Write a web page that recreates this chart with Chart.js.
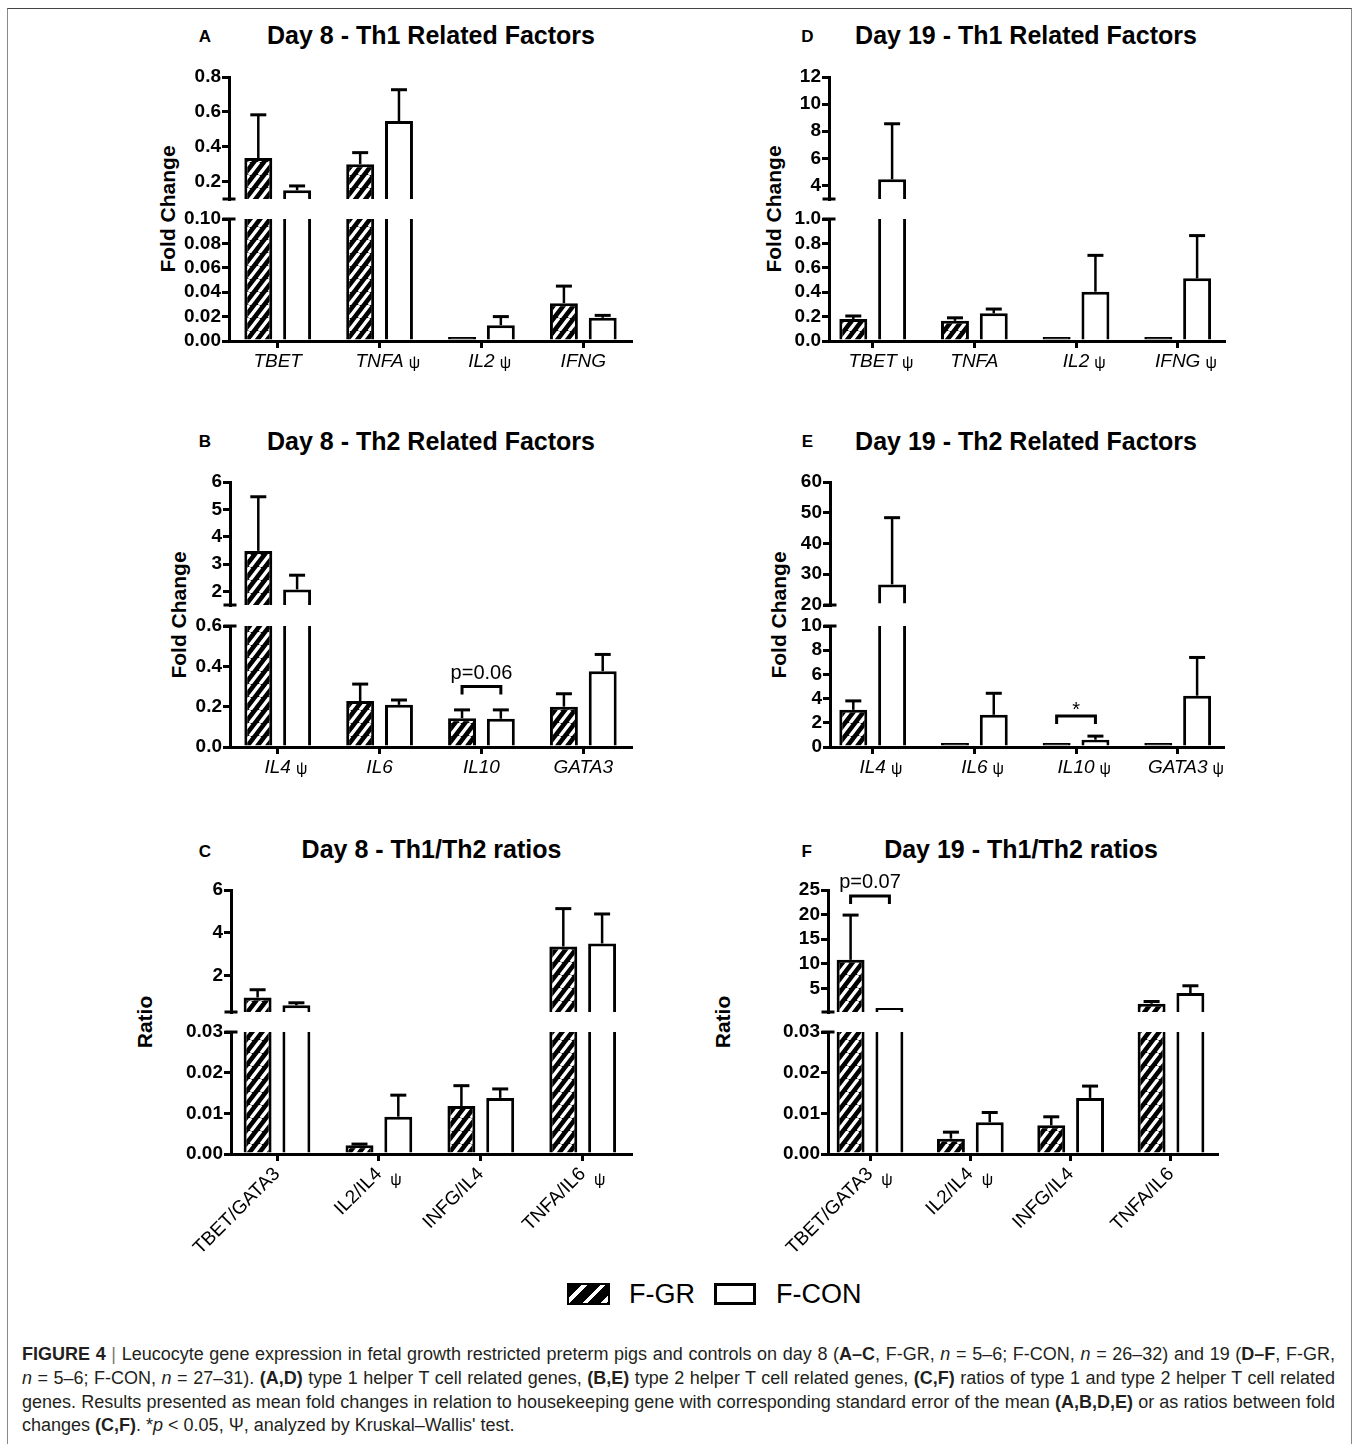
<!DOCTYPE html>
<html>
<head>
<meta charset="utf-8">
<title>Figure 4 – Leucocyte gene expression</title>
<script src="https://cdn.jsdelivr.net/npm/chart.js"></script>
<style>
  html, body { margin: 0; padding: 0; background: #fff; }
  body { width: 1358px; height: 1444px; position: relative; overflow: hidden;
         font-family: 'Liberation Sans', Arial, Helvetica, sans-serif; color: #000; }
  .frame { position: absolute; left: 7px; top: 8px; width: 1343px; height: 1460px;
           border-top: 1px solid #444; border-left: 1px solid #888; border-right: 1px solid #888; }
  canvas { position: absolute; }
  .t { position: absolute; white-space: nowrap; line-height: 1; }
  .title { font-weight: bold; font-size: 25px; transform: translateX(-50%); }
  .letter { font-weight: bold; font-size: 17px; transform: translateX(-50%); }
  .ytitle { font-weight: bold; font-size: 21px; transform: translate(-50%, -50%) rotate(-90deg); }
  .legtext { font-size: 27px; }
  .swatch { position: absolute; box-sizing: border-box; width: 43px; height: 22px; border: 3px solid #000; }
  .hatch { background: #000 repeating-linear-gradient(135deg, #000 0 9px, #fff 9px 13px); border-width: 2px; }
  .caption { position: absolute; left: 22px; top: 1343px; width: 1313px; font-size: 18px;
             line-height: 23.8px; color: #231f20; }
  .caption .ln { white-space: nowrap; }
  .caption .j { text-align: justify; text-align-last: justify; }
  .caption .bar { color: #777; }
</style>
</head>
<body>
<div class="frame"></div>

<!-- panel titles and letters -->
<div class="t letter" style="left:205px;top:28.4px">A</div>
<div class="t title" style="left:431px;top:23.4px">Day 8 - Th1 Related Factors</div>
<div class="t letter" style="left:807.3px;top:28.4px">D</div>
<div class="t title" style="left:1026px;top:23.4px">Day 19 - Th1 Related Factors</div>

<div class="t letter" style="left:205px;top:433.4px">B</div>
<div class="t title" style="left:431px;top:429px">Day 8 - Th2 Related Factors</div>
<div class="t letter" style="left:807.3px;top:433.4px">E</div>
<div class="t title" style="left:1026px;top:429px">Day 19 - Th2 Related Factors</div>

<div class="t letter" style="left:205px;top:843.4px">C</div>
<div class="t title" style="left:431.5px;top:836.8px">Day 8 - Th1/Th2 ratios</div>
<div class="t letter" style="left:806.7px;top:843.4px">F</div>
<div class="t title" style="left:1021px;top:836.8px">Day 19 - Th1/Th2 ratios</div>

<!-- value-axis titles -->
<div class="t ytitle" style="left:166.7px;top:209px">Fold Change</div>
<div class="t ytitle" style="left:773.3px;top:209px">Fold Change</div>
<div class="t ytitle" style="left:177.7px;top:614.5px">Fold Change</div>
<div class="t ytitle" style="left:777.7px;top:614.5px">Fold Change</div>
<div class="t ytitle" style="left:144px;top:1022px">Ratio</div>
<div class="t ytitle" style="left:721.7px;top:1022px">Ratio</div>

<!-- shared legend -->
<div class="swatch hatch" style="left:567px;top:1283px"></div>
<div class="t legtext" style="left:629px;top:1280.6px">F-GR</div>
<div class="swatch" style="left:714px;top:1283px;width:42px"></div>
<div class="t legtext" style="left:776px;top:1280.6px">F-CON</div>

<div class="caption">
  <div class="ln j"><b>FIGURE 4</b> <span class="bar">|</span> Leucocyte gene expression in fetal growth restricted preterm pigs and controls on day 8 (<b>A–C</b>, F-GR, <i>n</i> = 5–6; F-CON, <i>n</i> = 26–32) and 19 (<b>D–F</b>, F-GR,</div>
  <div class="ln j"><i>n</i> = 5–6; F-CON, <i>n</i> = 27–31). <b>(A,D)</b> type 1 helper T cell related genes, <b>(B,E)</b> type 2 helper T cell related genes, <b>(C,F)</b> ratios of type 1 and type 2 helper T cell related</div>
  <div class="ln j">genes. Results presented as mean fold changes in relation to housekeeping gene with corresponding standard error of the mean <b>(A,B,D,E)</b> or as ratios between fold</div>
  <div class="ln">changes <b>(C,F)</b>. *<i>p</i> &lt; 0.05, Ψ, analyzed by Kruskal–Wallis' test.</div>
</div>

<script>
// ---------------- data: means and SEM per group ----------------
// (A) Day 8 – Th1 related factors
const catsA   = ['TBET', 'TNFA', 'IL2', 'IFNG'];
const psiA    = [false, true, true, false];
const grA     = [0.335, 0.300, 0.003, 0.031];
const grSemA  = [0.248, 0.066, null, 0.014];
const conA    = [0.150, 0.547, 0.013, 0.019];
const conSemA = [0.025, 0.180, 0.007, 0.002];
const upTicksA  = [0.2, 0.4, 0.6, 0.8];
const lowTicksA = [0, 0.02, 0.04, 0.06, 0.08, 0.10];

// (D) Day 19 – Th1 related factors
const catsD   = ['TBET', 'TNFA', 'IL2', 'IFNG'];
const psiD    = [true, false, true, true];
const grD     = [0.180, 0.165, 0.012, 0.022];
const grSemD  = [0.025, 0.025, null, null];
const conD    = [4.45, 0.227, 0.404, 0.514];
const conSemD = [4.10, 0.035, 0.298, 0.350];
const upTicksD  = [4, 6, 8, 10, 12];
const lowTicksD = [0, 0.2, 0.4, 0.6, 0.8, 1.0];

// (B) Day 8 – Th2 related factors
const catsB   = ['IL4', 'IL6', 'IL10', 'GATA3'];
const psiB    = [true, false, false, false];
const grB     = [3.48, 0.228, 0.143, 0.200];
const grSemB  = [1.98, 0.084, 0.041, 0.064];
const conB    = [2.07, 0.209, 0.140, 0.376];
const conSemB = [0.52, 0.024, 0.044, 0.083];
const upTicksB  = [2, 3, 4, 5, 6];
const lowTicksB = [0, 0.2, 0.4, 0.6];

// (E) Day 19 – Th2 related factors
const catsE   = ['IL4', 'IL6', 'IL10', 'GATA3'];
const psiE    = [true, true, true, true];
const grE     = [3.07, 0.25, 0.20, 0.22];
const grSemE  = [0.74, null, null, null];
const conE    = [26.7, 2.66, 0.60, 4.24];
const conSemE = [21.7, 1.78, 0.30, 3.16];
const upTicksE  = [20, 30, 40, 50, 60];
const lowTicksE = [0, 2, 4, 6, 8, 10];

// (C) Day 8 – Th1/Th2 ratios
const catsC   = ['TBET/GATA3', 'IL2/IL4', 'INFG/IL4', 'TNFA/IL6'];
const psiC    = [false, true, false, true];
const grC     = [0.98, 0.00214, 0.0118, 3.36];
const grSemC  = [0.36, 0.0003, 0.0050, 1.77];
const conC    = [0.61, 0.00917, 0.0138, 3.50];
const conSemC = [0.12, 0.0053, 0.0022, 1.38];
const upTicksC  = [2, 4, 6];
const lowTicksC = [0, 0.01, 0.02, 0.03];

// (F) Day 19 – Th1/Th2 ratios
const catsF   = ['TBET/GATA3', 'IL2/IL4', 'INFG/IL4', 'TNFA/IL6'];
const psiF    = [true, true, false, false];
const grF     = [10.8, 0.00377, 0.00705, 1.88];
const grSemF  = [9.1, 0.0016, 0.0021, 0.46];
const conF    = [1.0, 0.0078, 0.0138, 4.05];
const conSemF = [null, 0.0024, 0.0029, 1.48];
const upTicksF  = [5, 10, 15, 20, 25];
const lowTicksF = [0, 0.01, 0.02, 0.03];

// significance brackets: category, axis segment, bracket height (axis units), text
const sigB = [{ cat: 2, axis: 'yLow', y: 0.30, text: 'p=0.06' }];
const sigE = [{ cat: 2, axis: 'yLow', y: 2.57, text: '*' }];
const sigF = [{ cat: 0, axis: 'yHigh', y: 23.8, text: 'p=0.07' }];

// ---------------- panel layout ----------------
const panels = [
  { cats: catsA, psi: psiA, gr: grA, grSem: grSemA, con: conA, conSem: conSemA, sig: [],
    upper: { min: 0.1, max: 0.8, ticks: upTicksA, dp: 1 }, lower: { min: 0, max: 0.1, ticks: lowTicksA, dp: 2 },
    box: { l: 229, r: 631, t: 77, gt: 199, gb: 219, b: 341 }, tick0: 277.7, gap: 101.87, rotate: false },
  { cats: catsD, psi: psiD, gr: grD, grSem: grSemD, con: conD, conSem: conSemD, sig: [],
    upper: { min: 3, max: 12, ticks: upTicksD, dp: 0 }, lower: { min: 0, max: 1.0, ticks: lowTicksD, dp: 1 },
    box: { l: 829, r: 1224, t: 77, gt: 199, gb: 219, b: 341 }, tick0: 872.7, gap: 101.67, rotate: false },
  { cats: catsB, psi: psiB, gr: grB, grSem: grSemB, con: conB, conSem: conSemB, sig: sigB,
    upper: { min: 1.5, max: 6, ticks: upTicksB, dp: 0 }, lower: { min: 0, max: 0.6, ticks: lowTicksB, dp: 1 },
    box: { l: 230, r: 631, t: 482, gt: 605, gb: 626, b: 747 }, tick0: 277.7, gap: 101.87, rotate: false },
  { cats: catsE, psi: psiE, gr: grE, grSem: grSemE, con: conE, conSem: conSemE, sig: sigE,
    upper: { min: 20, max: 60, ticks: upTicksE, dp: 0 }, lower: { min: 0, max: 10, ticks: lowTicksE, dp: 0 },
    box: { l: 830, r: 1223, t: 482, gt: 605, gb: 626, b: 747 }, tick0: 872.7, gap: 101.67, rotate: false },
  { cats: catsC, psi: psiC, gr: grC, grSem: grSemC, con: conC, conSem: conSemC, sig: [],
    upper: { min: 0.3, max: 6, ticks: upTicksC, dp: 0 }, lower: { min: 0, max: 0.03, ticks: lowTicksC, dp: 2 },
    box: { l: 231, r: 631, t: 890, gt: 1012, gb: 1032, b: 1154 }, tick0: 277, gap: 101.9, rotate: true },
  { cats: catsF, psi: psiF, gr: grF, grSem: grSemF, con: conF, conSem: conSemF, sig: sigF,
    upper: { min: 0.2, max: 25, ticks: upTicksF, dp: 0 }, lower: { min: 0, max: 0.03, ticks: lowTicksF, dp: 2 },
    box: { l: 828, r: 1217, t: 890, gt: 1012, gb: 1032, b: 1154 }, tick0: 870, gap: 100.33, rotate: true },
];

const FONT = "'Liberation Sans', Arial, Helvetica, sans-serif";
Chart.defaults.font.family = FONT;
Chart.defaults.color = '#000';

// black bars with white "/" stripes
function makeHatch(ctx) {
  const w = 10, h = 13;
  const c = document.createElement('canvas');
  c.width = w; c.height = h;
  const g = c.getContext('2d');
  g.fillStyle = '#000';
  g.fillRect(0, 0, w, h);
  g.strokeStyle = '#fff';
  g.lineWidth = 3.4;
  g.beginPath();
  for (const dx of [-w, 0, w]) { g.moveTo(dx, h); g.lineTo(dx + w, 0); }
  g.stroke();
  return ctx.createPattern(c, 'repeat');
}

// upward SEM whiskers with a cap
const errorBars = {
  id: 'errorBars',
  afterDatasetsDraw(chart) {
    const ctx = chart.ctx;
    ctx.save();
    ctx.strokeStyle = '#000';
    chart.data.datasets.forEach((ds, di) => {
      const meta = chart.getDatasetMeta(di);
      const scale = chart.scales[ds.yAxisID];
      meta.data.forEach((bar, i) => {
        const m = ds.means[i], s = ds.sem[i];
        if (m == null || s == null) return;
        const y0 = scale.getPixelForValue(m);
        const y1 = scale.getPixelForValue(m + s);
        ctx.lineWidth = 2.5;
        ctx.beginPath(); ctx.moveTo(bar.x, y0); ctx.lineTo(bar.x, y1); ctx.stroke();
        ctx.lineWidth = 3;
        ctx.beginPath(); ctx.moveTo(bar.x - 8, y1); ctx.lineTo(bar.x + 8, y1); ctx.stroke();
      });
    });
    ctx.restore();
  }
};

// short caps where the value axis is broken
const breakMarks = {
  id: 'breakMarks',
  afterDraw(chart) {
    const ctx = chart.ctx;
    const x = chart.chartArea.left;
    ctx.save();
    ctx.strokeStyle = '#000';
    ctx.lineWidth = 3;
    for (const y of [chart.scales.yHigh.bottom, chart.scales.yLow.top]) {
      ctx.beginPath(); ctx.moveTo(x - 6.5, y); ctx.lineTo(x + 6.5, y); ctx.stroke();
    }
    ctx.restore();
  }
};

// Kruskal–Wallis marker next to category labels
const psiMarks = {
  id: 'psiMarks',
  afterDraw(chart) {
    const p = chart.canvas.panelCfg;
    const xs = chart.scales.x;
    const ctx = chart.ctx;
    ctx.save();
    ctx.fillStyle = '#000';
    ctx.textBaseline = 'middle';
    p.psi.forEach((flag, i) => {
      if (!flag) return;
      const tx = xs.getPixelForValue(i);
      if (p.rotate) {
        ctx.font = '16px ' + FONT;
        ctx.textAlign = 'center';
        ctx.fillText('ψ', tx + 17, xs.top + 27);
      } else {
        ctx.font = 'italic 19px ' + FONT;
        const w = ctx.measureText(p.cats[i]).width;
        ctx.font = '16px ' + FONT;
        ctx.textAlign = 'left';
        ctx.fillText('ψ', tx + w / 2 + 5, xs.top + 7 + 2 + 19 * 1.2 / 2 + 2);
      }
    });
    ctx.restore();
  }
};

// comparison brackets with their labels
const sigBrackets = {
  id: 'sigBrackets',
  afterDatasetsDraw(chart) {
    const p = chart.canvas.panelCfg;
    const ctx = chart.ctx;
    ctx.save();
    ctx.strokeStyle = '#000';
    ctx.fillStyle = '#000';
    ctx.lineWidth = 3;
    for (const it of p.sig) {
      const scale = chart.scales[it.axis];
      const xa = chart.getDatasetMeta(0).data[it.cat].x;
      const xb = chart.getDatasetMeta(1).data[it.cat].x;
      const y = scale.getPixelForValue(it.y);
      ctx.beginPath();
      ctx.moveTo(xa, y + 8); ctx.lineTo(xa, y); ctx.lineTo(xb, y); ctx.lineTo(xb, y + 8);
      ctx.stroke();
      ctx.font = '20px ' + FONT;
      ctx.textAlign = 'center';
      ctx.textBaseline = 'alphabetic';
      ctx.fillText(it.text, (xa + xb) / 2, y - (it.text === '*' ? 0 : 8));
    }
    ctx.restore();
  }
};

function buildPanel(p) {
  const AXIS_W = 90, PAD_T = 45, PAD_R = 15;
  const xH = p.rotate ? 125 : 45;
  const bx = p.box;
  const canvas = document.createElement('canvas');
  const w = AXIS_W + (bx.r - bx.l) + PAD_R;
  const h = PAD_T + (bx.b - bx.t) + xH;
  canvas.width = w; canvas.height = h;
  canvas.style.width = w + 'px'; canvas.style.height = h + 'px';
  canvas.style.left = (bx.l - AXIS_W) + 'px';
  canvas.style.top = (bx.t - PAD_T) + 'px';
  canvas.panelCfg = p;
  document.body.appendChild(canvas);
  const ctx = canvas.getContext('2d');
  const hatch = makeHatch(ctx);

  const lowMax = p.lower.max, upMin = p.upper.min;
  const idx = p.cats.map((_, i) => i);
  const openTop = { top: 0, right: 3, bottom: 0, left: 3 };

  // very short bars render as a solid black stub, as in the printed figure
  const fillFor = (vals, fill) => c => (fill !== '#fff' && vals[c.dataIndex] < lowMax * 0.05 ? '#000' : fill);

  const lowerSet = (vals, sem, fill, stack) => ({
    data: vals.map(v => Math.min(v, lowMax)),
    means: vals.map(v => (v <= lowMax ? v : null)),
    sem,
    yAxisID: 'yLow', stack,
    minBarLength: 4,
    backgroundColor: fillFor(vals, fill), borderColor: '#000',
    borderWidth: c => (vals[c.dataIndex] > lowMax ? openTop : 3),
  });
  const upperSet = (vals, sem, fill, stack) => ({
    data: vals.map(v => (v > upMin ? v : null)),
    means: vals.map(v => (v > upMin ? v : null)),
    sem,
    yAxisID: 'yHigh', stack, base: upMin,
    backgroundColor: fill, borderColor: '#000', borderWidth: 3,
  });

  const xMin = -(p.tick0 - bx.l) / p.gap;
  const xMax = (bx.r - p.tick0) / p.gap;
  const rot = p.rotate ? 45 : 0;

  const gridOpts = { display: true, drawOnChartArea: false, drawTicks: true, tickLength: 7, offset: false,
                     tickWidth: 3, tickColor: '#000', color: '#000', lineWidth: 3 };
  const borderOpts = { display: true, color: '#000', width: 3, z: 1 };
  const yTickFont = { size: 19, weight: 'bold' };

  const valueAxis = (seg, weight, stackWeight) => ({
    type: 'linear', position: 'left', stack: 'v', stackWeight, weight,
    min: seg.min, max: seg.max, bounds: 'data', stacked: false,
    afterBuildTicks: s => { s.ticks = seg.ticks.map(v => ({ value: v })); },
    afterFit: s => { s.width = AXIS_W; },
    grid: gridOpts, border: borderOpts,
    ticks: { autoSkip: false, padding: 1, color: '#000', font: yTickFont, callback: v => v.toFixed(seg.dp) },
  });

  return new Chart(ctx, {
    type: 'bar',
    data: {
      labels: idx,
      datasets: [
        lowerSet(p.gr, p.gr.map((v, i) => (v <= lowMax ? p.grSem[i] : null)), hatch, 'gr'),
        lowerSet(p.con, p.con.map((v, i) => (v <= lowMax ? p.conSem[i] : null)), '#fff', 'con'),
        upperSet(p.gr, p.gr.map((v, i) => (v > upMin ? p.grSem[i] : null)), hatch, 'gr'),
        upperSet(p.con, p.con.map((v, i) => (v > upMin ? p.conSem[i] : null)), '#fff', 'con'),
      ],
    },
    options: {
      responsive: false,
      animation: false,
      devicePixelRatio: 1,
      layout: { padding: { top: PAD_T, right: PAD_R, left: 0, bottom: 0 } },
      datasets: { bar: { categoryPercentage: 77.6 / p.gap, barPercentage: 0.72, borderSkipped: 'start' } },
      plugins: { legend: { display: false }, tooltip: { enabled: false }, title: { display: false } },
      scales: {
        x: {
          type: 'linear', position: 'bottom', min: xMin, max: xMax, bounds: 'data', offset: false,
          afterBuildTicks: s => { s.ticks = idx.map(v => ({ value: v })); },
          afterFit: s => { s.height = xH; },
          grid: gridOpts, border: borderOpts,
          ticks: {
            autoSkip: false, minRotation: rot, maxRotation: rot, padding: 2, color: '#000',
            font: p.rotate ? { size: 19 } : { size: 19, style: 'italic' },
            callback: v => (p.cats[v] !== undefined ? p.cats[v] : ''),
          },
        },
        yHigh: valueAxis(p.upper, 3, bx.gt - bx.t),
        yGap: { type: 'linear', position: 'left', stack: 'v', stackWeight: bx.gb - bx.gt, weight: 2,
                display: false, afterFit: s => { s.width = AXIS_W; } },
        yLow: valueAxis(p.lower, 1, bx.b - bx.gb),
      },
    },
    plugins: [errorBars, sigBrackets, breakMarks, psiMarks],
  });
}

panels.forEach(buildPanel);
</script>
</body>
</html>
